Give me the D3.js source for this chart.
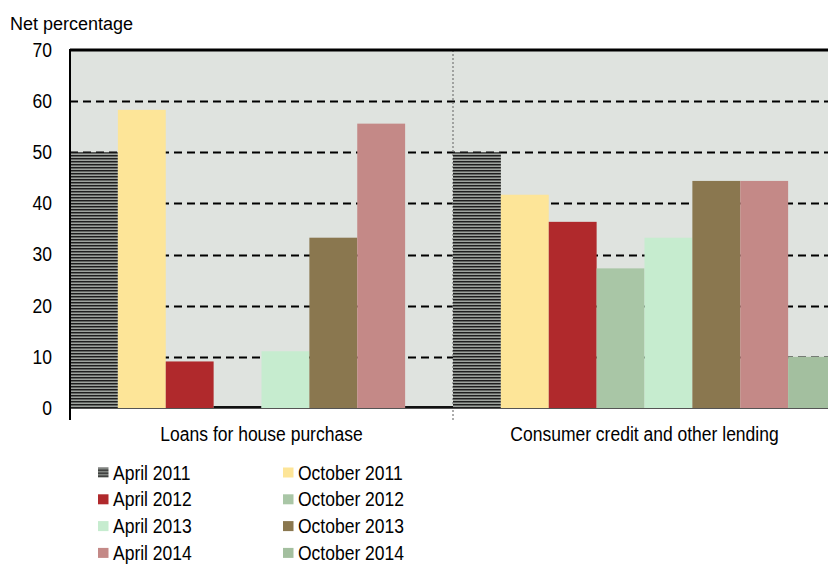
<!DOCTYPE html>
<html>
<head>
<meta charset="utf-8">
<script src="https://cdn.jsdelivr.net/npm/d3@7"></script>
<style>
  body { margin: 0; background: #fff; }
  svg { display: block; font-family: "Liberation Sans", Arial, sans-serif; }
</style>
</head>
<body>
<svg id="chart" width="828" height="566"></svg>
<script>
// Bank lending survey: net percentage by survey round
const categories = ["Loans for house purchase", "Consumer credit and other lending"];
const seriesNames = ["April 2011", "October 2011", "April 2012", "October 2012",
                     "April 2013", "October 2013", "April 2014", "October 2014"];
const housePurchase = [50, 58.3, 9.1, 0, 11.1, 33.3, 55.6, 0];
const consumerCredit = [50, 41.7, 36.4, 27.3, 33.3, 44.4, 44.4, 10];
const yTicks = [0, 10, 20, 30, 40, 50, 60, 70];
const seriesColors = ["url(#hatch)", "#fde598", "#b0292c", "#a9c6a6",
                      "#c6eccf", "#8a774f", "#c48987", "#a3bf9f"];

const FS = 20;      // label font size
const SX = 0.875;   // horizontal condensing of labels
const svg = d3.select("#chart");
const margin = { left: 70, top: 50, right: -8, bottom: 158 };
const W = 828, H = 566;
const plotW = W - margin.left - margin.right;
const plotH = H - margin.top - margin.bottom;

// Place a condensed text label at (x, y)
function label(sel, x, y) {
  return sel.attr("x", 0).attr("y", 0)
    .attr("transform", (d, i) => {
      const xx = typeof x === "function" ? x(d, i) : x;
      const yy = typeof y === "function" ? y(d, i) : y;
      return `translate(${xx},${yy}) scale(${SX},1)`;
    })
    .attr("font-size", FS).attr("fill", "#000");
}

// Horizontal stripe pattern for the first series
const defs = svg.append("defs");
const pat = defs.append("pattern").attr("id", "hatch")
  .attr("patternUnits", "userSpaceOnUse").attr("width", 6).attr("height", 3);
pat.append("rect").attr("width", 6).attr("height", 3).attr("fill", "#9ea39e");
pat.append("rect").attr("width", 6).attr("height", 1.2).attr("fill", "#1e1e1e");
pat.append("rect").attr("y", 1.2).attr("width", 6).attr("height", 0.8).attr("fill", "#5a5e5a");

const g = svg.append("g").attr("transform", `translate(${margin.left},${margin.top})`);

const x0 = d3.scaleBand().domain(categories).range([0, plotW]).padding(0);
const x1 = d3.scaleBand().domain(seriesNames).range([0, x0.bandwidth()]).padding(0);
const y = d3.scaleLinear().domain([0, 70]).range([plotH, 0]);

// Plot background
g.append("rect").attr("width", plotW).attr("height", plotH).attr("fill", "#dfe3df");

// Dashed gridlines
g.append("g").selectAll("line").data(yTicks.filter(t => t > 0 && t < 70)).join("line")
  .attr("x1", 0).attr("x2", plotW)
  .attr("y1", d => Math.round(y(d)) + 0.5).attr("y2", d => Math.round(y(d)) + 0.5)
  .attr("stroke", "#000").attr("stroke-width", 2).attr("stroke-dasharray", "8,5");

// Group divider
g.append("line")
  .attr("x1", x0.bandwidth()).attr("x2", x0.bandwidth())
  .attr("y1", 0).attr("y2", plotH + 12)
  .attr("stroke", "#777").attr("stroke-width", 1.2).attr("stroke-dasharray", "2,2");

const rows = categories.map((c, i) => ({ cat: c, values: i === 0 ? housePurchase : consumerCredit }));

// Bars
const groups = g.selectAll("g.grp").data(rows).join("g").attr("class", "grp")
  .attr("transform", d => `translate(${x0(d.cat)},0)`);
groups.selectAll("rect").data(d => d.values.map((v, j) => ({ v, s: seriesNames[j], j }))).join("rect")
  .attr("x", d => x1(d.s))
  .attr("width", x1.bandwidth())
  .attr("y", d => d.v === 0 ? y(0) - 2 : y(d.v))
  .attr("height", d => d.v === 0 ? 2 : y(0) - y(d.v))
  .attr("fill", d => d.v === 0 ? "#111" : seriesColors[d.j]);

// Baseline
g.append("line").attr("x1", 0).attr("x2", plotW)
  .attr("y1", plotH + 0.5).attr("y2", plotH + 0.5)
  .attr("stroke", "#555").attr("stroke-width", 1);

// Top border
g.append("line").attr("x1", 0).attr("x2", plotW).attr("y1", 0).attr("y2", 0)
  .attr("stroke", "#000").attr("stroke-width", 3);

// Left axis
const yAxis = g.append("g").call(d3.axisLeft(y).tickValues(yTicks).tickSize(0).tickPadding(18));
yAxis.select(".domain").remove();
yAxis.selectAll("text").attr("font-family", null)
  .attr("font-size", FS).attr("fill", "#000")
  .attr("transform", `translate(-18,0) scale(${SX},1)`).attr("x", 0);
g.append("line").attr("x1", 0).attr("x2", 0).attr("y1", -1).attr("y2", plotH + 12)
  .attr("stroke", "#000").attr("stroke-width", 2);

// Category labels
label(g.selectAll("text.cat").data(categories).join("text").attr("class", "cat"),
      d => x0(d) + x0.bandwidth() / 2, plotH + 33)
  .attr("text-anchor", "middle")
  .text(d => d);

// Axis title
svg.append("text").attr("x", 10).attr("y", 30).attr("font-size", 18).attr("fill", "#000")
  .text("Net percentage");

// Legend
const legend = svg.append("g");
const items = legend.selectAll("g").data(seriesNames).join("g")
  .attr("transform", (d, i) => `translate(${i % 2 === 0 ? 98 : 283},${472.5 + Math.floor(i / 2) * 26.8})`);
items.append("rect").attr("x", 0).attr("y", -5).attr("width", 10.5).attr("height", 10)
  .attr("fill", (d, i) => seriesColors[i]);
label(items.append("text"), 15, 7)
  .text(d => d);
</script>
</body>
</html>
